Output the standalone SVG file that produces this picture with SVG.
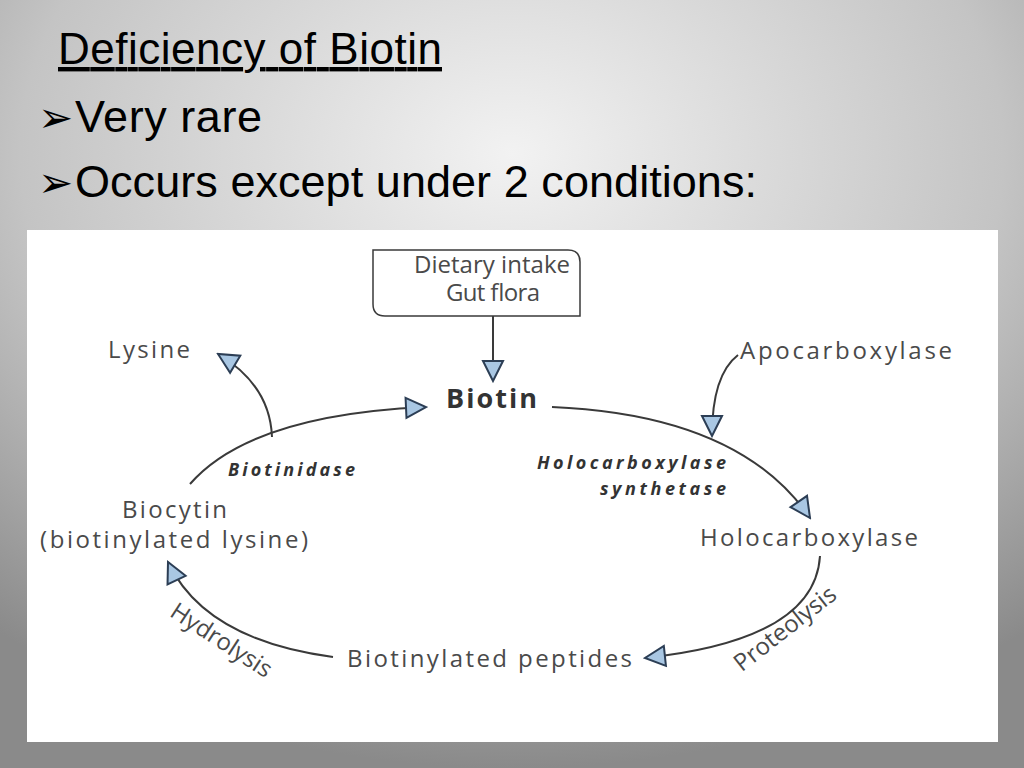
<svg xmlns="http://www.w3.org/2000/svg" width="1024" height="768" viewBox="0 0 1024 768">
<defs>
<radialGradient id="bg" cx="0.5" cy="0.2" r="0.8">
<stop offset="0" stop-color="#f2f2f2"/><stop offset="0.6" stop-color="#c4c4c4"/><stop offset="1" stop-color="#8a8a8a"/>
</radialGradient>
<marker id="ah" viewBox="0 0 12 12" refX="11" refY="6" markerWidth="24" markerHeight="24" markerUnits="userSpaceOnUse" orient="auto">
<path d="M1,1 L11,6 L1,11 Z" fill="#a9c7e3" stroke="#2c3e55" stroke-width="1"/>
</marker>
<style>
.t{font-family:"Liberation Sans",Arial,sans-serif;fill:#000}
.d{font-family:"Open Sans","DejaVu Sans",sans-serif;fill:#4a4a4a;font-size:24px}
.b{font-family:"Open Sans","DejaVu Sans",sans-serif;fill:#333;font-size:18px;font-weight:bold;font-style:italic}
.c{fill:none;stroke:#3a3a3a;stroke-width:2}
</style>
</defs>
<rect width="1024" height="768" fill="url(#bg)"/>
<text class="t" x="58" y="64" font-size="44" text-decoration="underline" textLength="384">Deficiency of Biotin</text>
<text class="t" x="38" y="132" font-size="42" font-family="DejaVu Sans">➢</text>
<text class="t" x="75" y="132" font-size="45" textLength="187">Very rare</text>
<text class="t" x="38" y="197" font-size="42" font-family="DejaVu Sans">➢</text>
<text class="t" x="75" y="197" font-size="45" textLength="682">Occurs except under 2 conditions:</text>
<rect x="27" y="230" width="971" height="512" fill="#fff"/>
<g id="dietary"><path d="M373,250 H568 Q580,250 580,262 V316 H385 Q373,316 373,304 Z" fill="#fff" stroke="#3a3a3a" stroke-width="1.5"/>
<text class="d" x="414" y="273" font-size="16" textLength="156">Dietary intake</text>
<text class="d" x="446" y="301" font-size="16" textLength="94">Gut flora</text></g>
<g id="biotin"><text x="446" y="408" font-family="Open Sans,DejaVu Sans,sans-serif" font-weight="bold" font-size="27" fill="#333" textLength="91">Biotin</text></g>
<g id="apo"><text class="d" x="740" y="359" textLength="212">Apocarboxylase</text></g>
<g id="holo"><text class="d" x="700" y="546" textLength="218">Holocarboxylase</text></g>
<g id="peptides"><text class="d" x="347" y="667" textLength="285">Biotinylated peptides</text></g>
<g id="biocytin"><text class="d" x="122" y="518" textLength="105">Biocytin</text>
<text class="d" x="40" y="548" textLength="268">(biotinylated lysine)</text></g>
<g id="lysine"><text class="d" x="108" y="358" textLength="82">Lysine</text></g>
<g id="labels">
<text class="b" x="537" y="469" textLength="189">Holocarboxylase</text>
<text class="b" x="600" y="495" textLength="126">synthetase</text>
<text class="b" x="228" y="476" textLength="127">Biotinidase</text>
<text class="d" font-size="17" transform="translate(790,635) rotate(-38)" text-anchor="middle">Proteolysis</text>
<text class="d" font-size="17" transform="translate(217,647) rotate(33)" text-anchor="middle">Hydrolysis</text>
</g>
<g id="connectors">
<path class="c" d="M493,316 V381" marker-end="url(#ah)"/>
<path class="c" d="M552,407 Q740,415 810,518" marker-end="url(#ah)"/>
<path class="c" d="M738,355 Q712,375 712,436" marker-end="url(#ah)"/>
<path class="c" d="M820,556 Q815,640 645,658" marker-end="url(#ah)"/>
<path class="c" d="M333,657 Q205,640 168,562" marker-end="url(#ah)"/>
<path class="c" d="M190,484 Q250,415 426,407" marker-end="url(#ah)"/>
<path class="c" d="M272,437 Q270,385 218,354" marker-end="url(#ah)"/>
</g>
</svg>
